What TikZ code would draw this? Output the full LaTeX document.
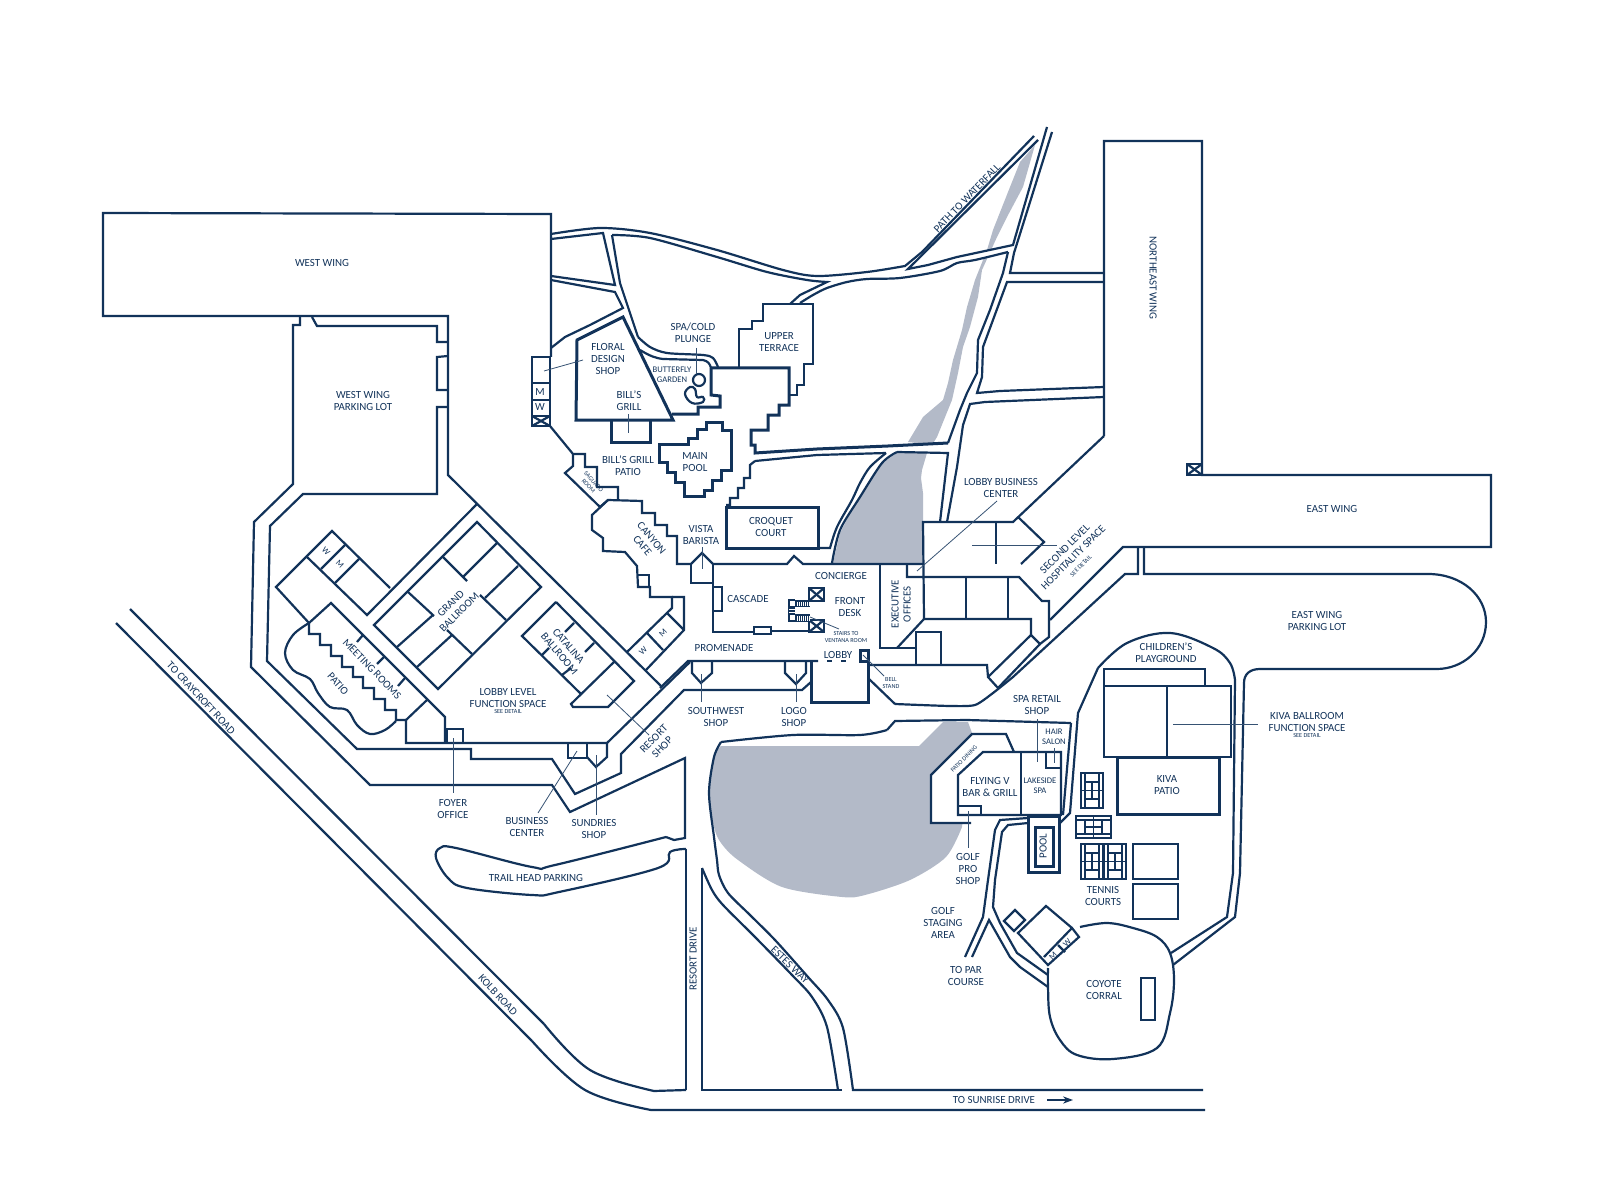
\documentclass[tikz,border=0pt]{standalone}
\usepackage{fontspec}
\setmainfont{Carlito}
\usepackage{xcolor}
\usetikzlibrary{arrows.meta}
\definecolor{navy}{HTML}{12335A}
\definecolor{lakegray}{HTML}{B3BAC8}

\begin{document}
\begin{tikzpicture}[
  x=0.5pt, y=-0.5pt,
  >=Stealth,
  wall/.style={draw=navy, line width=1.1pt, line join=miter},
  heavywall/.style={draw=navy, line width=1.5pt, line join=miter},
  court/.style={draw=navy, line width=0.7pt},
  leader/.style={draw=navy!85, line width=0.4pt},
  maplabel/.style={font=\fontsize{5.45}{6}\selectfont, text=navy, align=center, inner sep=0pt},
  smalllabel/.style={font=\fontsize{4.3}{5}\selectfont, text=navy, align=center, inner sep=0pt},
  tinylabel/.style={font=\fontsize{3.1}{3.5}\selectfont, text=navy, align=center, inner sep=0pt}
]
\useasboundingbox (0,0) rectangle (1607,1182);

% Lake and stream
\fill[lakegray] plot[smooth, tension=0.5] coordinates {(721,746) (714,757) (709,793) (714,827) (721,843) (738,860) (782,887) (842,897) (865,895) (910,880) (946,857) (962,827)} -- (972,733) -- (968,722) -- (943,722) -- (919,746) -- cycle;
\fill[lakegray] (1035,145) -- (1023,187) -- (1007,217) -- (997,237) -- (982,270) -- (978,297) -- (970,327) -- (963,347) -- (958,373) -- (952,400) -- (937,437) -- (932,445) -- (908,442) -- (923,417) -- (943,400) -- (948,383) -- (953,360) -- (962,330) -- (967,307) -- (975,280) -- (987,250) -- (993,230) -- (1010,187) -- (1020,162) -- cycle;
\fill[lakegray] (927,453) -- (922,470) -- (921,478) -- (923,493) -- (923,563) -- (833,563) -- (840,533) -- (857,500) -- (882,463) -- (897,453) -- cycle;
\fill[white] (928,265) -- (957,257) -- (1013,245) -- (1008,252) -- (975,260) -- (957,263) -- (940,271) -- cycle;

% West wing and parking lot
\draw[wall] (551,357) -- (551,214) -- (103,213) -- (103,316) -- (448,316) -- (448,475) -- (662,687);
\draw[wall] (300,316) -- (300,325) -- (293,325) -- (293,484) -- (254,522) -- (251,667) -- (370,785) -- (552,785) -- (570,812) -- (685,758) -- (685,838) -- (674,840) -- (666,837);
\draw[wall] (312,317) -- (317,326) -- (437,326) -- (437,342) -- (448,342);
\draw[wall] (448,356) -- (437,357) -- (437,390) -- (448,390);
\draw[wall] (448,407) -- (437,407) -- (437,494) -- (303,494) -- (270,526) -- (267,661) -- (357,749) -- (471,749) -- (471,759) -- (552,759) -- (575,794) -- (621,773) -- (621,754) -- (684,690) -- (802,690) -- (811,682);

% Lobby level function space
\draw[wall] (477,504) -- (367,615) -- (307,557);
\draw[wall] (390,588) -- (332,531) -- (276,587) -- (309,623) -- (331,603) -- (445,717) -- (445,743);
\draw[wall] (345,545) -- (321,569);
\draw[wall] (359,559) -- (335,583);
\draw[wall] (309,623) -- (309,634) -- (320,634) -- (320,645) -- (331,645) -- (331,656) -- (342,656) -- (342,667) -- (353,667) -- (353,677) -- (363,677) -- (363,688) -- (374,688) -- (374,699) -- (385,699) -- (385,710) -- (396,710) -- (396,720) -- (406,720) -- (406,743) -- (607,743) -- (690,662);
\draw[wall] (406,720) -- (427,700);
\draw[wall] (363,635) -- (357,642);
\draw[wall] (384,657) -- (377,664);
\draw[wall] (405,678) -- (398,686);
\draw[wall] plot[smooth, tension=0.6] coordinates {(309,623) (293,635) (285,653) (293,670) (310,679) (318,693) (330,707) (347,710) (357,725) (370,734) (385,730) (396,721)};
\draw[wall] (447,743) -- (447,729) -- (463,729) -- (463,743);
% Grand ballroom
\draw[wall] (477,522) -- (541,587) -- (438,689) -- (374,625) -- cycle;
\draw[wall] (443,557) -- (467,581);
\draw[wall] (497,543) -- (463,577);
\draw[wall] (518,566) -- (485,598);
\draw[wall] (480,595) -- (506,620);
\draw[wall] (408,592) -- (434,616);
\draw[wall] (433,615) -- (397,647);
\draw[wall] (447,630) -- (472,654);
\draw[wall] (452,635) -- (417,667);
% Catalina ballroom
\draw[wall] (556,602) -- (634,681) -- (608,707) -- (573,707) -- (571,704) -- (614,662);
\draw[wall] (556,602) -- (522,636) -- (581,694);
\draw[wall] (574,623) -- (565,632);
\draw[wall] (594,643) -- (585,652);
\draw[wall] (549,648) -- (542,655);
\draw[wall] (571,668) -- (562,675);
% Small shops on the south side
\draw[wall] (568,743) -- (568,758) -- (587,758) -- (587,743);
\draw[wall] (587,757) -- (596,767) -- (607,757) -- (607,743);

% Canyon cafe edge and saguaro room
\draw[wall] (532,357) rectangle (550,426);
\draw[wall] (532,383) -- (550,383);
\draw[wall] (532,400) -- (550,400);
\draw[wall] (532,416) -- (550,416);
\draw[wall] (532,416) -- (550,426);
\draw[wall] (532,426) -- (550,416);
\draw[wall] (550,426) -- (573,454) -- (585,454) -- (585,467) -- (597,467) -- (597,487) -- (618,487) -- (618,500);
\draw[wall] (573,454) -- (573,466) -- (565,473) -- (600,507) -- (608,500) -- (642,501) -- (642,513) -- (655,513) -- (655,525) -- (667,525) -- (667,536) -- (677,536) -- (677,564) -- (691,564) -- (702,553) -- (713,564) -- (787,564) -- (794,556) -- (803,564) -- (924,564);
\draw[wall] (608,500) -- (592,515) -- (592,530) -- (603,538) -- (603,551) -- (625,552) -- (637,566) -- (638,587) -- (650,587) -- (650,597) -- (672,597) -- (672,608) -- (627,652);
\draw[wall] (638,575) -- (649,575) -- (649,587);
\draw[wall] (672,597) -- (684,597) -- (684,630) -- (646,670);
\draw[wall] (667,613) -- (684,630);
\draw[wall] (647,633) -- (663,650);
\draw[wall] (691,564) -- (691,583) -- (713,583);

% Floral design, bill's grill, butterfly garden
\draw[heavywall] (623,317) -- (577,340) -- (576,420) -- (673,420) -- cycle;
\draw[heavywall] (611,420) -- (611,442) -- (650,442) -- (650,420);
\draw[wall] (640,350) .. controls (650,356) and (655,358) .. (663,359) -- (703,360) .. controls (708,361) and (710,364) .. (711,368);
\draw[heavywall] (672,414) -- (698,414) -- (698,407) -- (720,407) -- (720,396) -- (711,395) -- (711,368);
\draw[wall] (699,380) circle (6);
\draw[wall] plot[smooth cycle, tension=0.7] coordinates {(690,387) (685,394) (692,403) (703,402) (703,397) (697,397) (695,389)};

% Upper terrace and main pool
\draw[wall] (739,367) -- (739,329) -- (752,329) -- (752,321) -- (763,321) -- (763,304) -- (813,304) -- (813,364) -- (804,364) -- (804,385) -- (797,385) -- (797,395) -- (789,395);
\draw[heavywall] (711,368) -- (789,368) -- (789,405) -- (779,405) -- (779,415) -- (768,415) -- (768,430) -- (751,430) -- (751,445) -- (755,445) -- (755,453) -- (817,449) -- (888,446) -- (948,443);
\draw[heavywall] (659,444) -- (688,444) -- (688,438) -- (697,438) -- (697,429) -- (706,429) -- (706,422) -- (722,422) -- (722,430) -- (731,430) -- (731,470) -- (721,470) -- (721,480) -- (712,480) -- (712,490) -- (704,490) -- (704,496) -- (684,496) -- (684,482) -- (675,482) -- (675,472) -- (667,472) -- (667,462) -- (659,462) -- cycle;

% Paths north of the lobby
\draw[wall] plot[smooth, tension=0.5] coordinates {(551,234) (600,228) (650,233) (717,250) (783,270) (817,276) (867,272) (905,266)} -- (922,252) -- (1034,136);
\draw[wall] (551,239) -- (603,233) -- (615,285) -- (551,276);
\draw[wall] (551,280) -- (615,292) -- (623,308) -- (590,325) -- (565,337) -- (551,348);
\draw[wall] plot[smooth, tension=0.5] coordinates {(612,235) (650,238) (717,257) (767,272) (807,280) (827,282)} -- (800,295) -- (790,304);
\draw[wall] (612,235) -- (620,283) -- (638,337);
\draw[wall] plot[smooth, tension=0.5] coordinates {(638,337) (650,347) (667,353) (703,355) (713,358) (718,367)};
\draw[wall] plot[smooth, tension=0.5] coordinates {(800,303) (813,295) (827,288) (847,282) (867,279) (900,278) (940,271) (957,263) (975,260) (1008,252)};
\draw[wall] (1038,140) -- (908,269) -- (928,265) -- (957,257) -- (1013,245) -- (1047,127);
\draw[wall] (1052,132) -- (1014,253) -- (1010,273) -- (1104,273);
\draw[wall] (1008,252) -- (1003,273) -- (990,310) -- (978,340) -- (977,373) -- (967,393) -- (960,410) -- (948,443);
\draw[wall] (1104,282) -- (1007,282) -- (983,347) -- (982,377) -- (977,393) -- (1000,391) -- (1104,387);
\draw[wall] (1104,397) -- (985,402) -- (970,404) -- (963,425) -- (957,467) -- (947,522);
\draw[wall] (940,522) -- (948,453) -- (897,452);
\draw[wall] plot[smooth, tension=0.5] coordinates {(897,452) (882,463) (860,497) (840,530) (832,563)};
\draw[wall] (755,461) -- (817,455) -- (886,453);
\draw[wall] plot[smooth, tension=0.5] coordinates {(886,453) (870,467) (860,483) (852,500) (837,527) (830,548)} -- (818,548);
\draw[wall] (755,461) -- (750,465) -- (750,478) -- (744,478) -- (744,488) -- (738,488) -- (738,498) -- (730,498) -- (730,505) -- (726,505);
\draw[heavywall] (726,548) rectangle (818,507);

% Northeast and east wings
\draw[wall] (1104,436) -- (1104,141) -- (1202,141) -- (1202,475) -- (1491,475) -- (1491,547) -- (1123,547) -- (1050,620);
\draw[wall] (1104,436) -- (1013,522) -- (923,522) -- (924,619);
\draw[wall] (1187,464) rectangle (1202,475);
\draw[wall] (1187,464) -- (1202,475);
\draw[wall] (1187,475) -- (1202,464);

% Lobby buildings
\draw[wall] (996,523) -- (996,564);
\draw[wall] (1018,517) -- (1044,542) -- (1021,564);
\draw[wall] (880,564) -- (880,648) -- (916,648);
\draw[wall] (897,648) -- (924,619) -- (1031,619) -- (1031,635);
\draw[wall] (907,564) -- (907,577) -- (1019,577) -- (1042,601) -- (1049,601) -- (1049,637) -- (1040,644) -- (1031,635) -- (988,677);
\draw[wall] (966,577) -- (966,619);
\draw[wall] (1008,577) -- (1008,619);
\draw[wall] (916,665) -- (916,632) -- (941,632) -- (941,665);
\draw[wall] (868,665) -- (987,665) -- (988,677) -- (998,688) -- (1040,644);
\draw[wall] plot[smooth, tension=0.4] coordinates {(895,704) (950,706) (975,705) (993,693) (1013,677)} -- (1125,574) -- (1138,574) -- (1138,547);
\draw[wall] (868,678) -- (895,704);
\draw[wall] (1144,547) -- (1144,574) -- (1428,574) .. controls (1462,574) and (1486,596) .. (1486,622) .. controls (1486,650) and (1462,669) .. (1437,669) -- (1260,669) .. controls (1250,669) and (1244,674) .. (1244,683) -- (1240,873) -- (1235,917) -- (1173,965);

% Concierge level
\draw[wall] (713,564) -- (713,632) -- (754,632);
\draw[wall] (771,631) -- (810,631);
\draw[wall] (754,627) rectangle (771,634);
\draw[wall] (713,587) -- (722,587) -- (722,611) -- (713,611);
\foreach \bx/\by/\bw/\bh in {809/588/15/13, 809/620/15/12} {
  \draw[wall] (\bx,\by) rectangle +(\bw,\bh);
  \draw[wall] (\bx,\by) -- +(\bw,\bh);
  \draw[wall] (\bx,\by+\bh) -- +(\bw,-\bh);
}
% Stairs
\fill[navy] (788,599) rectangle (795,622);
\fill[white] (790,601) rectangle (795,606);
\fill[white] (790,615) rectangle (795,620);
\draw[white, line width=0.3pt] (789,609) -- (795,609);
\draw[white, line width=0.3pt] (789,612) -- (795,612);
\fill[navy] (795,600) rectangle (810,607);
\fill[navy] (795,614) rectangle (810,622);
\foreach \sx in {797,799,...,809} {
  \draw[white, line width=0.35pt] (\sx,602) -- (\sx,606);
  \draw[white, line width=0.35pt] (\sx,616) -- (\sx,621);
}

% Promenade and lobby
\draw[wall] (660,688) -- (688,661) -- (818,661);
\draw[wall] (692,661) -- (692,673) -- (701,683) -- (712,673) -- (712,661);
\draw[wall] (785,661) -- (785,673) -- (796,684) -- (806,673) -- (806,661);
\draw[heavywall] (811,662) -- (811,702) -- (868,702) -- (868,661);
\draw[heavywall] (860,650) rectangle (868,661);
\draw[navy, line width=1.3pt, dash pattern=on 2.5pt off 4.5pt] (827,661) -- (850,661);

% Road around the lake
\draw[wall] (1071,723) -- (967,720) -- (895,721) -- (887,730);
\draw[wall] plot[smooth, tension=0.5] coordinates {(887,730) (860,735) (793,735) (721,742)};
\draw[wall] plot[smooth, tension=0.5] coordinates {(721,742) (714,757) (709,793) (714,837) (717,860) (719,875) (728,893) (750,915) (775,940) (808,977) (828,1000) (843,1028) (853,1090)} -- (1203,1090);
\draw[wall] plot[smooth, tension=0.5] coordinates {(702,868) (712,890) (723,905) (755,937) (792,975) (812,997) (827,1027) (838,1090)};
\draw[wall] (842,1090) -- (702,1090) -- (702,868);
\draw[wall] (130,609) -- (544,1024);
\draw[wall] plot[smooth, tension=0.6] coordinates {(544,1024) (590,1070) (654,1091)} -- (686,1090);
\draw[wall] (116,623) -- (532,1041);
\draw[wall] plot[smooth, tension=0.6] coordinates {(532,1041) (585,1090) (651,1110)} -- (1205,1110);
\draw[wall] plot[smooth, tension=0.6] coordinates {(666,837) (555,865) (532,867) (456,848) (440,848) (436,858) (448,878) (467,888) (532,895) (559,892) (658,868) (670,852) (686,849)};
\draw[wall] (686,849) -- (686,1090);

% Flying V and spa
\fill[white] (971,823) -- (931,823) -- (931,775) -- (972,734) -- (1006,734) -- (1014,752) -- (1061,752) -- (1061,815) -- (971,815) -- cycle;
\draw[wall] (971,823) -- (931,823) -- (931,775) -- (972,734) -- (1006,734) -- (1014,752);
\draw[wall] (983,752) -- (958,775) -- (958,815) -- (1061,815) -- (1061,752) -- cycle;
\draw[wall] (1021,752) -- (1021,815);
\draw[wall] (958,806) -- (981,806) -- (981,815);
\draw[wall] (1046,752) -- (1046,768) -- (1061,768);
\draw[wall] (1071,723) -- (1063,815);
\draw[wall] (1098,668) -- (1078,713) -- (1070,813) -- (1060,823);
\draw[heavywall] (1028,816) rectangle (1059,872);
\draw[heavywall] (1035,827) rectangle (1053,866);

% Paths to the coyote corral
\draw[wall] (1028,818) -- (1000,820) -- (995,830) -- (988,880) -- (983,917) -- (965,957);
\draw[wall] (1028,823) -- (1008,825) -- (1002,832) -- (995,880) -- (993,907) -- (1000,923) -- (1017,953) -- (1048,975);
\draw[wall] (972,957) -- (989,920) -- (1010,957) -- (1020,967) -- (1048,987);
\draw[wall] plot[smooth, tension=0.6] coordinates {(1080,927) (1107,923) (1133,928) (1157,937) (1170,953) (1174,980) (1170,1013) (1157,1048) (1113,1059) (1077,1055) (1060,1040) (1050,1017) (1048,987) (1048,968)};
\draw[wall] (1072,928) -- (1046,906) -- (1018,933) -- (1048,965) -- (1079,937) -- (1072,928) -- (1044,957);
\draw[wall] (1058,945) -- (1065,952);
\draw[wall] (1015,910) -- (1025,920) -- (1014,931) -- (1004,921) -- cycle;
\draw[wall] (1141,978) rectangle (1155,1020);
\draw[wall] (1171,953) -- (1227,917) -- (1233,873) -- (1235,680);
\draw[wall] plot[smooth, tension=0.6] coordinates {(1235,680) (1230,663) (1213,648) (1170,633) (1127,643) (1098,668)};

% Kiva ballroom and patio
\draw[wall] (1104,686) -- (1104,669) -- (1205,669) -- (1205,686);
\draw[wall] (1104,686) rectangle (1231,757);
\draw[wall] (1167,686) -- (1167,757);
\draw[heavywall] (1117,757) rectangle (1219,814);
\draw[wall] (1133,844) rectangle (1178,879);
\draw[wall] (1133,884) rectangle (1178,919);

% Tennis courts
\foreach \cx/\cy in {1081/773, 1081/844, 1104/844} {
  \draw[court] (\cx,\cy) rectangle +(22,35);
  \draw[court] (\cx+4,\cy) -- +(0,35);
  \draw[court] (\cx+18,\cy) -- +(0,35);
  \draw[court] (\cx+4,\cy+9) -- +(14,0);
  \draw[court] (\cx+4,\cy+26) -- +(14,0);
  \draw[court] (\cx,\cy+17.5) -- +(22,0);
  \draw[court] (\cx+11,\cy+9) -- +(0,17);
}
\draw[court] (1076,816) rectangle +(35,22);
\draw[court] (1076,820) -- +(35,0);
\draw[court] (1076,834) -- +(35,0);
\draw[court] (1085,820) -- +(0,14);
\draw[court] (1102,820) -- +(0,14);
\draw[court] (1093.5,816) -- +(0,22);
\draw[court] (1085,827) -- +(17,0);

% Leader lines
\draw[leader] (453,738) -- (453,793);
\draw[leader] (577,751) -- (538,813);
\draw[leader] (596,755) -- (596,815);
\draw[leader] (607,695) -- (649,735);
\draw[leader] (701,674) -- (701,702);
\draw[leader] (796,674) -- (796,702);
\draw[leader] (696,348) -- (696,374);
\draw[leader] (544,371) -- (583,360);
\draw[leader] (628,414) -- (628,433);
\draw[leader] (702,547) -- (702,569);
\draw[leader] (810,617) -- (839,629);
\draw[leader] (863,655) -- (884,676);
\draw[leader] (997,501) -- (917,571);
\draw[leader] (972,545) -- (1057,545);
\draw[leader] (1037,719) -- (1037,762);
\draw[leader] (1054,748) -- (1054,763);
\draw[leader] (968,811) -- (968,848);
\draw[leader] (1173,724) -- (1258,724);

% Wing and parking labels
\node[maplabel] (westwing) at (322,263) {WEST WING};
\node[maplabel] (westlot) at (363,401) {WEST WING\\PARKING LOT};
\node[maplabel, rotate=-90] (newing) at (1153,278) {NORTHEAST WING};
\node[maplabel] (eastwing) at (1332,509) {EAST WING};
\node[maplabel] (eastlot) at (1317,621) {EAST WING\\PARKING LOT};
\node[maplabel, rotate=46] (waterfall) at (967,198) {PATH TO WATERFALL};
% North of the lobby
\node[maplabel] (terrace) at (779,342) {UPPER\\TERRACE};
\node[maplabel] (plunge) at (693,333) {SPA/COLD\\PLUNGE};
\node[maplabel] (floral) at (608,359) {FLORAL\\DESIGN\\SHOP};
\node[smalllabel] (butterfly) at (672,375) {BUTTERFLY\\GARDEN};
\node[maplabel] (grill) at (629,401) {BILL'S\\GRILL};
\node[maplabel] (grillpatio) at (628,466) {BILL'S GRILL\\PATIO};
\node[maplabel] (mainpool) at (695,462) {MAIN\\POOL};
\node[tinylabel, rotate=-48] (saguaro) at (591,484) {SAGUARO\\ROOM};
\node[maplabel, rotate=-50] (canyon) at (647,542) {CANYON\\CAFE};
\node[maplabel] (vista) at (701,535) {VISTA\\BARISTA};
\node[maplabel] (croquet) at (771,527) {CROQUET\\COURT};
\node[maplabel] (m1) at (540,392) {M};
\node[maplabel] (w1) at (540,407) {W};
% Lobby
\node[maplabel] (concierge) at (841,576) {CONCIERGE};
\node[maplabel] (cascade) at (748,599) {CASCADE};
\node[maplabel] (frontdesk) at (850,607) {FRONT\\DESK};
\node[tinylabel] (stairs) at (846,637) {STAIRS TO\\VENTANA ROOM};
\node[maplabel, rotate=90] (exec) at (901,604) {EXECUTIVE\\OFFICES};
\node[maplabel] (bizcenter) at (1001,488) {LOBBY BUSINESS\\CENTER};
\node[maplabel, rotate=45] (second) at (1069,553) {SECOND LEVEL\\HOSPITALITY SPACE};
\node[tinylabel, rotate=45] (seconddetail) at (1081,566) {SEE DETAIL};
\node[maplabel] (promenade) at (724,648) {PROMENADE};
\node[maplabel] (lobby) at (838,655) {LOBBY};
\node[tinylabel] (bell) at (891,683) {BELL\\STAND};
\node[maplabel] (southwest) at (716,717) {SOUTHWEST\\SHOP};
\node[maplabel] (logo) at (794,717) {LOGO\\SHOP};
% Function space
\node[maplabel, rotate=45] (resort) at (658,743) {RESORT\\SHOP};
\node[maplabel, rotate=45] (grand) at (455,608) {GRAND\\BALLROOM};
\node[maplabel, rotate=-46] (meeting) at (372,669) {MEETING ROOMS};
\node[maplabel, rotate=-48] (patio) at (338,684) {PATIO};
\node[smalllabel, rotate=-45] (w2) at (326,551) {W};
\node[smalllabel, rotate=-45] (m2) at (340,564) {M};
\node[smalllabel, rotate=45] (w3) at (643,651) {W};
\node[smalllabel, rotate=45] (m3) at (663,633) {M};
\node[maplabel, rotate=-50] (catalina) at (564,650) {CATALINA\\BALLROOM};
\node[maplabel] (lobbylevel) at (508,698) {LOBBY LEVEL\\FUNCTION SPACE};
\node[tinylabel] (lobbydetail) at (508,712) {SEE DETAIL};
\node[maplabel] (foyer) at (453,809) {FOYER\\OFFICE};
\node[maplabel] (business) at (527,827) {BUSINESS\\CENTER};
\node[maplabel] (sundries) at (594,829) {SUNDRIES\\SHOP};
\node[maplabel] (trail) at (536,878) {TRAIL HEAD PARKING};
% Roads
\node[maplabel, rotate=90] (resortdrive) at (693,959) {RESORT DRIVE};
\node[maplabel, rotate=-44] (estes) at (790,965) {ESTES WAY};
\node[maplabel, rotate=-47] (craycroft) at (201,698) {TO CRAYCROFT ROAD};
\node[maplabel, rotate=-47] (kolb) at (498,995) {KOLB ROAD};
\node[maplabel] (sunrise) at (994,1100) {TO SUNRISE DRIVE};
\coordinate (sunrisetail) at (1047,1100);
\coordinate (sunrisetip) at (1073,1100);
\draw[-{Stealth[length=5pt, width=3.6pt]}, navy, line width=0.6pt] (sunrisetail) -- (sunrisetip);
% East side
\node[maplabel] (playground) at (1166,653) {CHILDREN'S\\PLAYGROUND};
\node[maplabel] (kivafunc) at (1307,722) {KIVA BALLROOM\\FUNCTION SPACE};
\node[tinylabel] (kivadetail) at (1307,736) {SEE DETAIL};
\node[maplabel] (kivapatio) at (1167,785) {KIVA\\PATIO};
\node[maplabel] (sparetail) at (1037,705) {SPA RETAIL\\SHOP};
\node[smalllabel] (hair) at (1054,737) {HAIR\\SALON};
\node[tinylabel, rotate=45] (dining) at (964,759) {PATIO DINING};
\node[maplabel] (flying) at (990,787) {FLYING V\\BAR \& GRILL};
\node[smalllabel] (lakeside) at (1040,786) {LAKESIDE\\SPA};
\node[maplabel, rotate=90] (pool) at (1043,846) {POOL};
\node[maplabel] (golfpro) at (968,869) {GOLF\\PRO\\SHOP};
\node[maplabel] (staging) at (943,923) {GOLF\\STAGING\\AREA};
\node[maplabel] (topar) at (966,976) {TO PAR\\COURSE};
\node[maplabel] (tennis) at (1103,896) {TENNIS\\COURTS};
\node[maplabel] (coyote) at (1104,990) {COYOTE\\CORRAL};
\node[smalllabel, rotate=45] (m4) at (1053,956) {M};
\node[smalllabel, rotate=45] (w4) at (1067,943) {W};

\end{tikzpicture}
\end{document}
